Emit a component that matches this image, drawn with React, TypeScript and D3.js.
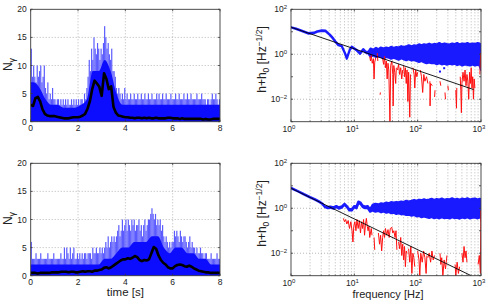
import React from 'react';
import * as d3 from 'd3';

// ---------- axis ticks ----------
const timeTicks = [0, 2, 4, 6, 8];
const countTicks = [0, 5, 10, 15, 20];
const freqTickExps = [0, 1, 2, 3];
const ampTickExps = [-2, 0, 2];

// ---------- left panels: photon counts ----------
const binStep = 0.05; // s, raw count bins
const coreStep = 0.25; // s, dense level bins
const smoothStep = 0.1; // s, smoothed curve

const topPeak = [
  13, 8, 10, 8, 7, 10, 8, 9, 10, 7,
  8, 10, 6, 5, 7, 4, 5, 4, 6, 4,
  4, 3, 4, 4, 3, 4, 3, 4, 3, 4,
  3, 4, 3, 3, 4, 3, 4, 3, 4, 3,
  4, 3, 4, 4, 3, 5, 4, 6, 8, 11,
  9, 13, 11, 15, 13, 12, 14, 13, 11, 13,
  12, 14, 17, 15, 13, 14, 12, 11, 13, 9,
  9, 8, 6, 5, 6, 5, 4, 5, 4, 6,
  4, 5, 4, 4, 5, 4, 4, 5, 4, 4,
  5, 4, 4, 5, 4, 4, 5, 4, 4, 5,
  4, 4, 5, 4, 4, 4, 5, 4, 5, 4,
  4, 5, 4, 4, 5, 4, 4, 4, 5, 4,
  4, 4, 5, 4, 4, 5, 4, 4, 4, 5,
  4, 4, 5, 4, 4, 5, 4, 4, 4, 4,
  5, 4, 4, 4, 5, 4, 4, 4, 3, 4,
  4, 3, 4, 5, 4, 4, 5, 4, 3, 4,
];
const topCore = [7, 6, 4, 3, 3, 2.5, 2.5, 2.5, 3, 4, 9, 9, 11, 9, 5, 3, 3, 3, 3, 3, 3, 3, 3, 3, 3, 3, 3, 3, 3, 3, 3, 3];
const topSmooth = [
  3.0, 2.8, 4.2, 4.4, 3.6, 2.2, 1.4, 1.1, 1.0, 1.0,
  1.0, 0.9, 0.8, 0.7, 0.6, 0.6, 0.6, 0.7, 0.8, 0.8,
  0.8, 0.9, 1.1, 1.4, 2.3, 3.6, 5.8, 7.3, 6.8, 6.2,
  4.6, 8.6, 7.6, 5.8, 6.3, 2.6, 1.6, 1.1, 1.0, 0.9,
  0.8, 0.8, 0.7, 0.7, 0.6, 0.7, 0.7, 0.6, 0.7, 0.6,
  0.7, 0.6, 0.6, 0.7, 0.6, 0.6, 0.6, 0.6, 0.7, 0.7,
  0.6, 0.6, 0.6, 0.5, 0.6, 0.5, 0.5, 0.5, 0.5, 0.5,
  0.5, 0.5, 0.5, 0.4, 0.5, 0.4, 0.4, 0.5, 0.5, 0.5, 0.5,
];

const botPeak = [
  6, 3, 3, 3, 4, 3, 3, 3, 4, 3,
  3, 3, 3, 3, 4, 3, 3, 3, 3, 4,
  3, 3, 3, 3, 3, 4, 3, 3, 5, 3,
  5, 4, 3, 5, 3, 4, 5, 3, 3, 4,
  3, 4, 3, 4, 3, 4, 4, 3, 4, 4,
  4, 3, 5, 4, 4, 5, 4, 4, 5, 4,
  5, 4, 5, 6, 5, 7, 5, 6, 7, 6,
  7, 6, 7, 8, 9, 7, 8, 10, 8, 9,
  10, 8, 10, 9, 8, 10, 9, 10, 8, 9,
  9, 10, 8, 9, 7, 9, 10, 8, 9, 10,
  10, 11, 12, 11, 10, 11, 9, 10, 9, 10,
  8, 9, 7, 6, 7, 6, 5, 6, 5, 6,
  6, 8, 7, 8, 7, 6, 8, 7, 6, 7,
  7, 6, 5, 6, 7, 5, 6, 5, 5, 4,
  5, 4, 4, 5, 4, 4, 3, 4, 4, 3,
  3, 3, 4, 3, 3, 3, 3, 4, 3, 3,
];
const botCore = [2, 2, 2, 2, 2, 2, 2, 2, 2, 2, 2, 2, 3, 3, 4, 5, 5, 6, 6, 6, 7, 7, 5, 4, 5, 5, 4, 4, 3, 3, 2, 2];
const botSmooth = [
  0.5, 0.5, 0.5, 0.4, 0.5, 0.5, 0.5, 0.5, 0.5, 0.6,
  0.6, 0.6, 0.6, 0.7, 0.7, 0.7, 0.6, 0.7, 0.7, 0.6,
  0.6, 0.7, 0.8, 0.7, 0.8, 0.8, 0.7, 0.9, 0.9, 1.0,
  1.1, 1.4, 1.5, 1.3, 1.5, 1.8, 2.1, 2.4, 2.7, 2.9,
  2.9, 3.1, 3.0, 3.2, 3.5, 3.3, 2.8, 2.6, 2.8, 2.7,
  2.9, 4.0, 5.1, 4.8, 3.6, 2.8, 2.3, 2.0, 1.5, 1.3,
  1.3, 1.7, 1.9, 2.0, 1.9, 1.7, 1.6, 1.8, 1.6, 1.3,
  1.1, 0.9, 0.8, 0.7, 0.6, 0.6, 0.5, 0.5, 0.5, 0.5, 0.5,
];

// ---------- right panels: spectra (values as log10 exponents) ----------
const trFreq = [
  1, 1.2, 1.5, 1.86, 2.3, 2.6, 3.05, 3.5, 4.1, 4.6, 5.0, 5.6, 6.3, 7.1, 7.6, 8.0, 8.5, 9.1, 10, 10.9,
  12.3, 13.8, 15, 16.6,
  18, 20, 22, 24, 26, 29, 32, 35, 38, 42, 46, 50, 55, 60, 66, 72, 80, 88, 96, 105,
  115, 126, 138, 152, 166, 182, 200, 220, 240, 265, 290, 320, 350, 385, 420, 460, 505, 555, 610, 670,
  735, 805, 885, 950, 1000,
];
const trLoExp = [
  1.2, 1.12, 1.02, 0.92, 0.94, 1.0, 1.04, 1.03, 0.86, 0.7, 0.56, 0.4, 0.36, 0.04, -0.2, -0.02, 0.2, 0.32, 0.24, 0.17,
  0.02, 0.2, 0.08, 0.04,
  -0.1, -0.05, -0.12, -0.08, -0.1, -0.18, -0.12, -0.15, -0.2, -0.15, -0.2, -0.24, -0.18, -0.22, -0.26, -0.22, -0.28, -0.25, -0.3, -0.34,
  -0.3, -0.35, -0.4, -0.36, -0.4, -0.38, -0.44, -0.4, -0.45, -0.42, -0.46, -0.42, -0.45, -0.42, -0.48, -0.44, -0.5, -0.45, -0.47, -0.5,
  -0.45, -0.5, -0.46, -0.5, -0.7,
];
const trHiExp = [
  1.2, 1.14, 1.04, 0.94, 0.96, 1.02, 1.06, 1.05, 0.88, 0.72, 0.58, 0.42, 0.38, 0.06, -0.16, 0.0, 0.22, 0.34, 0.26, 0.19,
  0.05, 0.23, 0.12, 0.1,
  0.25, 0.2, 0.28, 0.22, 0.3, 0.25, 0.3, 0.27, 0.33, 0.28, 0.32, 0.3, 0.36, 0.32, 0.35, 0.4, 0.35, 0.4, 0.38, 0.44,
  0.4, 0.44, 0.42, 0.47, 0.42, 0.46, 0.44, 0.5, 0.44, 0.48, 0.45, 0.43, 0.48, 0.45, 0.5, 0.44, 0.48, 0.46, 0.5, 0.45,
  0.48, 0.46, 0.5, 0.48, 0.4,
];
const trBlueDots = [[225, -0.77], [262, -0.62]];
type Pt = [number, number] | null;
const trRed: Pt[] = [
  [17.5, -0.1], [18, -0.3], [18.5, -0.05], [19.2, -0.4], [20, -0.2], [20.5, -1.1], [21, -0.35], [21.8, -0.15], null,
  [23, 0.05], [23.5, -0.3], null,
  [25.5, -1.8], [25.8, -1.7], null,
  [28, -0.2], [29, -0.45], [30, -0.1], [31, -0.6], [32, -0.3], [33, -1.1], [34, -0.4], [35, -0.7], [36.5, -3.0], [37.5, -0.5],
  [39, -0.3], [40.5, -0.9], [41, -2.3], [42, -0.5], [43.5, -0.8], [45, -1.3], [46, -0.6], null,
  [48, -0.7], [50, -0.45], [52, -0.9], [54, -0.6], [56, -1.1], [58, -0.7], null,
  [60, -0.5], [62, -1.0], [64, -0.6], [66, -1.3], [68, -0.7], [70, -2.1], [72, -0.8], [75, -2.8], [77, -0.9], null,
  [84, -0.6], [88, -0.9], [90, -1.5], [93, -0.7], [97, -1.0], [100, -0.8], null,
  [110, -0.7], [115, -1.0], [120, -1.7], [125, -0.9], [130, -1.2], [138, -1.0], [145, -1.3], null,
  [156, -1.2], [157, -2.3], [160, -1.3], [170, -1.4], null,
  [185, -1.9], [188, -1.6], null,
  [225, -1.2], [232, -1.4], null,
  [270, -1.7], [275, -2.0], null,
  [300, -1.4], [305, -1.6], null,
  [400, -1.6], [410, -2.4], [415, -1.5], null,
  [470, -1.0], [480, -1.6], [490, -2.6], [500, -1.3], [520, -0.8], [540, -1.2], [560, -0.7], [580, -1.4], [600, -0.9],
  [620, -1.2], [640, -2.0], [660, -0.8], [680, -1.3], [700, -0.6], [720, -1.5], [740, -1.0], [760, -2.0], [780, -1.1], [800, -1.5], null,
  [960, -0.9], [975, -0.3], [990, 0.05], [1000, -0.6],
];
const trFitFreq = [1, 760];
const trFitVal = [16, 0.027];

const brFreq = [
  1, 1.3, 1.6, 2.0, 2.4, 2.8, 3.1, 3.4, 3.8, 4.2, 4.7, 5.2, 5.7, 6.3, 7.0, 7.6, 8.3, 9.1, 10, 10.8,
  11.6, 12.5, 13.5, 14.8, 16.2, 17.7,
  19.5, 21.5, 24, 26.5, 29, 32, 35, 38, 42, 46, 50, 55, 60, 66, 72, 80, 88, 96, 105, 115,
  126, 138, 152, 166, 182, 200, 220, 240, 265, 290, 320, 350, 385, 420, 460, 505, 555, 610, 670, 735,
  805, 885, 950, 1000,
];
const brLoExp = [
  0.89, 0.74, 0.61, 0.48, 0.38, 0.28, 0.2, 0.06, 0.0, 0.02, -0.02, 0.06, -0.02, 0.02, 0.16, 0.06, -0.1, -0.1, 0.05, 0.0,
  0.22, 0.2, 0.06, 0.0, 0.02, -0.15,
  -0.1, -0.15, -0.12, -0.18, -0.14, -0.2, -0.16, -0.22, -0.2, -0.25, -0.22, -0.27, -0.25, -0.3, -0.28, -0.33, -0.3, -0.36, -0.34, -0.4,
  -0.36, -0.4, -0.43, -0.39, -0.44, -0.41, -0.45, -0.4, -0.44, -0.42, -0.45, -0.4, -0.44, -0.42, -0.46, -0.41, -0.44, -0.4, -0.45, -0.42,
  -0.41, -0.45, -0.4, -0.43,
];
const brHiExp = [
  0.91, 0.76, 0.63, 0.5, 0.4, 0.3, 0.22, 0.09, 0.05, 0.07, 0.04, 0.1, 0.04, 0.08, 0.2, 0.1, -0.04, -0.04, 0.1, 0.08,
  0.3, 0.26, 0.12, 0.08, 0.1, -0.05,
  0.15, 0.2, 0.17, 0.22, 0.2, 0.25, 0.22, 0.27, 0.25, 0.28, 0.26, 0.3, 0.28, 0.33, 0.3, 0.33, 0.37, 0.33, 0.38, 0.36,
  0.4, 0.36, 0.39, 0.42, 0.37, 0.41, 0.39, 0.43, 0.38, 0.41, 0.4, 0.44, 0.39, 0.42, 0.38, 0.43, 0.4, 0.44, 0.39, 0.42,
  0.43, 0.39, 0.42, 0.4,
];
const brRed: Pt[] = [
  [6.7, -0.45], [7.0, -0.6], [7.3, -0.5], [7.6, -0.7], [8.0, -0.55], [8.4, -0.9], [8.8, -0.6], [9.2, -1.0], [9.5, -1.5], [9.8, -0.8],
  [10.2, -0.6], [10.6, -1.0], [11, -0.5], [11.5, -0.9], [12, -0.55], [12.5, -1.1], [13, -0.6], [13.5, -0.9], [14, -0.5], [14.5, -1.2],
  [15, -0.7], [15.5, -0.45], [16, -0.8], [16.5, -1.0], [17, -0.8], [17.5, -1.3], [18.5, -0.9], [19, -1.2], null,
  [20.5, -1.3], [21, -1.85], null,
  [24, -1.1], [25, -1.6], [26, -1.2], [27, -1.9], [28, -1.3], [29, -1.0], [30, -1.3], [31, -0.9], [32.5, -1.2], [34, -0.95],
  [35.5, -1.3], [37, -0.9], [39, -0.85], [40.5, -1.1], [42, -1.0], [44, -1.3], [45.5, -1.0], [47, -1.85], null,
  [50, -1.5], [52, -1.8], [54, -1.3], [56, -2.1], [58, -1.6], [60, -2.3], [62, -1.7], [64, -2.6], [66, -1.9], [68, -2.0], null,
  [72, -1.8], [75, -2.4], [78, -1.7], [81, -2.9], [84, -2.0], [87, -2.2], [90, -2.6], null,
  [100, -1.9], [105, -2.3], [108, -3.0], [112, -2.0], [118, -2.4], [124, -1.9], [130, -2.2], [136, -2.9], [140, -2.1], null,
  [145, -2.2], [152, -2.0], [160, -2.4], [168, -1.9], [176, -2.3], [185, -2.1], null,
  [225, -2.0], [232, -2.5], [240, -2.2], [250, -3.0], [262, -2.3], [275, -2.7], [290, -2.1], null,
  [390, -2.5], [400, -3.0], [420, -2.4], [440, -2.9], [460, -2.6], null,
  [500, -2.0], [520, -2.4], [540, -1.7], [560, -2.2], [580, -1.9], [600, -2.4], null,
  [900, -2.5], [940, -2.1], [980, -2.9], [995, -0.1], [1000, -0.6],
];
const brFitFreq = [1, 700];
const brFitVal = [7.8, 0.001];

// ---------- layout ----------
const FONT = '"Liberation Sans", Arial, Helvetica, sans-serif';
const FRAME = '#3a3a3a';
const GRID = '#9a9a9a';

type Box = { x0: number; x1: number; y0: number; y1: number };

function CountPanel({ id, box, peak, core, smooth, xLabel }: any) {
  const x = d3.scaleLinear().domain([0, 8]).range([box.x0, box.x1]);
  const y = d3.scaleLinear().domain([0, 20]).range([box.y1, box.y0]);
  const line = d3.line<number>().x((_, i) => x(i * smoothStep)).y((v) => y(v));
  const corePts: [number, number][] = [[0, core[0]]];
  core.forEach((v: number, k: number) => corePts.push([(k + 0.5) * coreStep, v]));
  corePts.push([8, core[core.length - 1]]);
  const coreArea = d3
    .area<[number, number]>()
    .x((d) => x(d[0]))
    .y0(y(0))
    .y1((d) => y(d[1]))
    .curve(d3.curveMonotoneX);
  return (
    <g>
      <defs>
        <clipPath id={id}>
          <rect x={box.x0} y={box.y0} width={box.x1 - box.x0} height={box.y1 - box.y0} />
        </clipPath>
      </defs>
      {timeTicks.slice(1, -1).map((t) => (
        <line key={'gx' + t} x1={x(t)} x2={x(t)} y1={box.y0} y2={box.y1} stroke={GRID} strokeWidth={0.7} strokeDasharray="1,2" />
      ))}
      {countTicks.slice(1, -1).map((c) => (
        <line key={'gy' + c} x1={box.x0} x2={box.x1} y1={y(c)} y2={y(c)} stroke={GRID} strokeWidth={0.7} strokeDasharray="1,2" />
      ))}
      <g clipPath={`url(#${id})`}>
        {peak.map((v: number, i: number) => {
          const t0 = i * binStep;
          return (
            <rect key={'p' + i} x={x(t0)} width={x(t0 + binStep) - x(t0)} y={y(v)} height={y(0) - y(v)} fill="#5a5aff" />
          );
        })}
        <path d={coreArea(corePts) || ''} fill="#0c0cff" />
        <path d={line(smooth) || ''} fill="none" stroke="#000" strokeWidth={2.6} strokeLinejoin="round" />
      </g>
      <rect x={box.x0} y={box.y0} width={box.x1 - box.x0} height={box.y1 - box.y0} fill="none" stroke={FRAME} strokeWidth={0.9} />
      {timeTicks.map((t) => (
        <g key={'tx' + t}>
          <line x1={x(t)} x2={x(t)} y1={box.y1} y2={box.y1 - 2} stroke={FRAME} strokeWidth={0.8} />
          <line x1={x(t)} x2={x(t)} y1={box.y0} y2={box.y0 + 2} stroke={FRAME} strokeWidth={0.8} />
          <text x={x(t)} y={box.y1 + 9} fontSize={8.5} textAnchor="middle" fontFamily={FONT} fill="#222">{t}</text>
        </g>
      ))}
      {countTicks.map((c) => (
        <g key={'ty' + c}>
          <line x1={box.x0} x2={box.x0 + 2} y1={y(c)} y2={y(c)} stroke={FRAME} strokeWidth={0.8} />
          <line x1={box.x1} x2={box.x1 - 2} y1={y(c)} y2={y(c)} stroke={FRAME} strokeWidth={0.8} />
          <text x={box.x0 - 4} y={y(c) + 3} fontSize={8.5} textAnchor="end" fontFamily={FONT} fill="#222">{c}</text>
        </g>
      ))}
      <text transform={`translate(${box.x0 - 19},${(box.y0 + box.y1) / 2 - 1}) rotate(-90)`} fontSize={12} textAnchor="middle" fontFamily={FONT} fill="#222">
        N<tspan fontSize={9} dy={3}>γ</tspan>
      </text>
      {xLabel && (
        <text x={(box.x0 + box.x1) / 2} y={box.y1 + 20.5} fontSize={11.5} textAnchor="middle" fontFamily={FONT} fill="#222">{xLabel}</text>
      )}
    </g>
  );
}

function SpectrumPanel({ id, box, freq, loExp, hiExp, dots, red, fitF, fitV, xLabel }: any) {
  const x = d3.scaleLog().domain([1, 1000]).range([box.x0, box.x1]);
  const y = d3.scaleLog().domain([1e-3, 1e2]).range([box.y1, box.y0]);
  const area = d3
    .area<number>()
    .x((_, i) => x(freq[i]))
    .y0((_, i) => y(Math.pow(10, loExp[i])))
    .y1((_, i) => y(Math.pow(10, hiExp[i])));
  const redLine = d3
    .line<Pt>()
    .defined((d) => d !== null)
    .x((d) => x((d as [number, number])[0]))
    .y((d) => y(Math.pow(10, (d as [number, number])[1])));
  const fitLine = d3.line<number>().x((_, i) => x(fitF[i])).y((v) => y(v));
  const minor: number[] = [];
  for (let e = 0; e < 3; e++) for (let m = 2; m <= 9; m++) minor.push(m * Math.pow(10, e));
  const majorX = freqTickExps.map((e) => Math.pow(10, e));
  const gridX = [...minor, 10, 100];
  return (
    <g>
      <defs>
        <clipPath id={id}>
          <rect x={box.x0} y={box.y0} width={box.x1 - box.x0} height={box.y1 - box.y0} />
        </clipPath>
      </defs>
      {gridX.map((f) => (
        <line key={'gx' + f} x1={x(f)} x2={x(f)} y1={box.y0} y2={box.y1} stroke={GRID} strokeWidth={0.7} strokeDasharray="1,2" />
      ))}
      {[-2, 0].map((e) => (
        <line key={'gy' + e} x1={box.x0} x2={box.x1} y1={y(Math.pow(10, e))} y2={y(Math.pow(10, e))} stroke={GRID} strokeWidth={0.7} strokeDasharray="1,2" />
      ))}
      <g clipPath={`url(#${id})`}>
        <path d={area(freq) || ''} fill="#1a1aff" stroke="#1a1aff" strokeWidth={2.2} strokeLinejoin="round" />
        {(dots || []).map((d: number[], i: number) => (
          <rect key={'bd' + i} x={x(d[0]) - 1} y={y(Math.pow(10, d[1])) - 1} width={2} height={2} fill="#1a1aff" />
        ))}
        <path d={redLine(red) || ''} fill="none" stroke="#ff1010" strokeWidth={1} />
        <path d={fitLine(fitV) || ''} fill="none" stroke="#000" strokeWidth={0.9} />
      </g>
      <rect x={box.x0} y={box.y0} width={box.x1 - box.x0} height={box.y1 - box.y0} fill="none" stroke={FRAME} strokeWidth={0.9} />
      {minor.map((f) => (
        <g key={'mt' + f}>
          <line x1={x(f)} x2={x(f)} y1={box.y1} y2={box.y1 - 1.3} stroke={FRAME} strokeWidth={0.6} />
          <line x1={x(f)} x2={x(f)} y1={box.y0} y2={box.y0 + 1.3} stroke={FRAME} strokeWidth={0.6} />
        </g>
      ))}
      {freqTickExps.map((e, i) => (
        <g key={'tx' + e}>
          <line x1={x(majorX[i])} x2={x(majorX[i])} y1={box.y1} y2={box.y1 - 2.2} stroke={FRAME} strokeWidth={0.8} />
          <line x1={x(majorX[i])} x2={x(majorX[i])} y1={box.y0} y2={box.y0 + 2.2} stroke={FRAME} strokeWidth={0.8} />
          <text x={x(majorX[i]) - 2} y={box.y1 + 10.5} fontSize={8.5} textAnchor="middle" fontFamily={FONT} fill="#222">
            10<tspan fontSize={6} dy={-3.5}>{e}</tspan>
          </text>
        </g>
      ))}
      {[-3, -2, -1, 0, 1, 2].map((e) => (
        <g key={'ty' + e}>
          <line x1={box.x0} x2={box.x0 + 2} y1={y(Math.pow(10, e))} y2={y(Math.pow(10, e))} stroke={FRAME} strokeWidth={0.8} />
          <line x1={box.x1} x2={box.x1 - 2} y1={y(Math.pow(10, e))} y2={y(Math.pow(10, e))} stroke={FRAME} strokeWidth={0.8} />
        </g>
      ))}
      {ampTickExps.map((e) => (
        <text key={'yl' + e} x={box.x0 - 4} y={y(Math.pow(10, e)) + 3} fontSize={8.5} textAnchor="end" fontFamily={FONT} fill="#222">
          10<tspan fontSize={6} dy={-3.5}>{e < 0 ? '\u2212' + Math.abs(e) : e}</tspan>
        </text>
      ))}
      <text transform={`translate(${box.x0 - 25},${(box.y0 + box.y1) / 2 - 6}) rotate(-90)`} fontSize={12} textAnchor="middle" fontFamily={FONT} fill="#222">
        h+h<tspan fontSize={8.5} dy={3}>0</tspan>
        <tspan dy={-3}> [Hz</tspan>
        <tspan fontSize={8.5} dy={-4}>{'\u22121/2'}</tspan>
        <tspan dy={4}>]</tspan>
      </text>
      {xLabel && (
        <text x={(box.x0 + box.x1) / 2 + 2} y={box.y1 + 22} fontSize={11} textAnchor="middle" fontFamily={FONT} fill="#222">{xLabel}</text>
      )}
    </g>
  );
}

export default function App() {
  const tl: Box = { x0: 30.7, x1: 220, y0: 9.3, y1: 121.7 };
  const tr: Box = { x0: 291, x1: 481, y0: 9.3, y1: 121.7 };
  const bl: Box = { x0: 30.7, x1: 220, y0: 163.3, y1: 275.7 };
  const br: Box = { x0: 291, x1: 481, y0: 163.3, y1: 275.7 };
  return (
    <svg width={491} height={300} style={{ position: 'absolute', left: 0, top: 0, background: '#fff' }}>
      <rect x={0} y={0} width={491} height={300} fill="#fff" />
      <CountPanel id="c1" box={tl} peak={topPeak} core={topCore} smooth={topSmooth} />
      <CountPanel id="c2" box={bl} peak={botPeak} core={botCore} smooth={botSmooth} xLabel="time [s]" />
      <SpectrumPanel id="c3" box={tr} freq={trFreq} loExp={trLoExp} hiExp={trHiExp} dots={trBlueDots} red={trRed} fitF={trFitFreq} fitV={trFitVal} />
      <SpectrumPanel id="c4" box={br} freq={brFreq} loExp={brLoExp} hiExp={brHiExp} red={brRed} fitF={brFitFreq} fitV={brFitVal} xLabel="frequency [Hz]" />
    </svg>
  );
}
